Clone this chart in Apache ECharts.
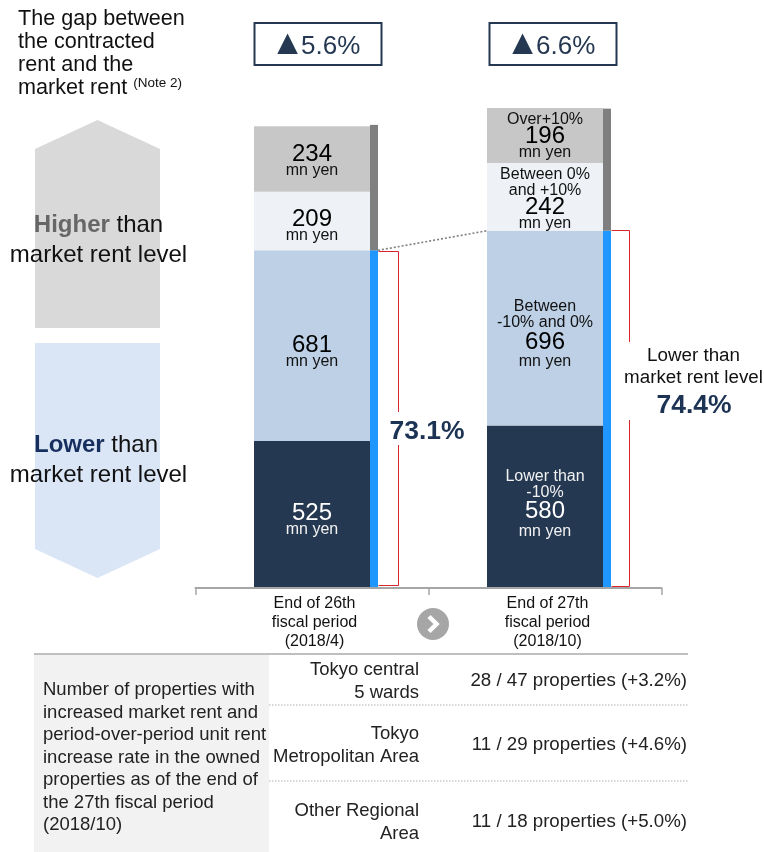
<!DOCTYPE html>
<html>
<head>
<meta charset="utf-8">
<style>html,body{margin:0;padding:0;background:#fff}#c{width:764px;height:852px}</style>
<script src="https://cdn.jsdelivr.net/npm/echarts@6/dist/echarts.min.js"></script>
</head>
<body>
<div id="c"></div>
<script>
const categories = ["End of 26th\nfiscal period\n(2018/4)", "End of 27th\nfiscal period\n(2018/10)"];
const overTen = [234, 196];
const zeroToTen = [209, 242];
const minusTenToZero = [681, 696];
const underMinusTen = [525, 580];
const sideHigher = [448, 436];
const sideLower = [1206, 1276];
const gapRates = ["5.6%", "6.6%"];
const shareLower = ["73.1%", "74.4%"];
const bandNames = [["Lower than", "-10%"], ["Between", "-10% and 0%"], ["Between 0%", "and +10%"], ["Over+10%"]];
const regions = [["Tokyo central", "5 wards"], ["Tokyo", "Metropolitan Area"], ["Other Regional", "Area"]];
const regionStats = ["28 / 47 properties (+3.2%)", "11 / 29 properties (+4.6%)", "11 / 18 properties (+5.0%)"];
const noteLines = ["Number of properties with", "increased market rent and", "period-over-period unit rent", "increase rate in the owned", "properties as of the end of", "the 27th fiscal period", "(2018/10)"];

const FONT = '"Liberation Sans", Arial, sans-serif';
const NAVY = '#253852';
const RED = '#d9262e';
function makeRich(numColor, textColor, numLine) {
  return {
    n: {fontSize: 24, lineHeight: numLine, color: numColor, fontFamily: FONT},
    u: {fontSize: 16, lineHeight: 16, color: textColor, fontFamily: FONT},
    t: {fontSize: 16, lineHeight: 16, color: textColor, fontFamily: FONT}
  };
}
function labelText(value, names) {
  const top = names ? names.map(s => '{t|' + s + '}').join('\n') + '\n' : '';
  return top + '{n|' + value + '}\n{u|mn yen}';
}
function items(values, names, offsets, rich) {
  return values.map((v, i) => ({
    value: v,
    label: {
      show: true, position: 'inside', rich: rich[i],
      offset: offsets[i],
      formatter: labelText(v, i === 1 ? names : null)
    }
  }));
}
function mainBar(name, values, color, names, offsets, rich) {
  return {
    name: name, type: 'bar', stack: 'main', barWidth: 116, xAxisIndex: 0, yAxisIndex: 0,
    itemStyle: {color: color}, data: items(values, names, offsets, rich), z: 2
  };
}
function sideBar(name, values, color) {
  return {
    name: name, type: 'bar', stack: 'side', barWidth: 8, xAxisIndex: 1, yAxisIndex: 1,
    itemStyle: {color: color}, data: values, z: 3
  };
}
const bracketSpec = [
  {reach: 20, nudge: 1.5, gapTop: 412, gapBottom: 445, foot: 2.5},
  {reach: 18, nudge: 0.5, gapTop: 342, gapBottom: 420, foot: 1.5}
];
function bracketItem(params, api) {
  const i = api.value(0);
  const top = api.coord([i, api.value(1)]);
  const base = api.coord([i, 0]);
  const s = bracketSpec[i];
  const x0 = top[0] + 66.5;
  const x1 = x0 + s.reach;
  const yTop = Math.floor(top[1]) + s.nudge;
  const st = {stroke: RED, lineWidth: 1, fill: null};
  return {type: 'group', children: [
    {type: 'polyline', shape: {points: [[x0, yTop], [x1, yTop], [x1, s.gapTop]]}, style: st},
    {type: 'polyline', shape: {points: [[x1, s.gapBottom], [x1, base[1] - s.foot], [x0, base[1] - s.foot]]}, style: st}
  ]};
}
function connectorItem(params, api) {
  const a = api.coord([api.value(0), api.value(1)]);
  const b = api.coord([api.value(2), api.value(3)]);
  return {type: 'line', shape: {x1: a[0] + 66, y1: a[1], x2: b[0] - 58, y2: b[1]},
    style: {stroke: '#7f7f7f', lineWidth: 1.6, lineDash: [2, 2]}};
}
function txt(text, x, y, size, extra) {
  return {type: 'text', x: x, y: y + 1.5, z: 20, style: Object.assign({
    text: text, fontSize: size, fontFamily: FONT, fill: '#111',
    align: 'left', verticalAlign: 'middle'
  }, extra || {})};
}
const graphics = [];
// heading
["The gap between", "the contracted", "rent and the"].forEach((s, i) => graphics.push(txt(s, 18, 18 + i * 23, 21.6)));
graphics.push(txt('{a|market rent }{b|(Note 2)}', 18, 87, 21.6, {
  rich: {a: {fontSize: 21.6, fontFamily: FONT, fill: '#111'},
         b: {fontSize: 13.5, fontFamily: FONT, fill: '#111', padding: [0, 0, 11, 0]}}
}));
// gap boxes
[254.5, 489.5].forEach((x, i) => {
  graphics.push({type: 'rect', shape: {x: x, y: 23, width: 127, height: 42}, z: 10,
    style: {fill: '#fff', stroke: NAVY, lineWidth: 2}});
  graphics.push(txt('▲', x + 33, 43, 35, {align: 'center', fill: NAVY}));
  graphics.push(txt(gapRates[i], x + 46.5, 45, 26, {align: 'left', fill: NAVY}));
});
// direction arrows
graphics.push({type: 'polygon', z: 1, shape: {points: [[35, 149], [97.5, 120], [160, 149], [160, 328], [35, 328]]},
  style: {fill: '#d9d9d9'}});
graphics.push({type: 'polygon', z: 1, shape: {points: [[35, 343], [160, 343], [160, 549], [97.5, 578], [35, 549]]},
  style: {fill: '#dae5f5'}});
graphics.push(txt('{h|Higher}{a| than}', 98.5, 224, 24, {align: 'center',
  rich: {h: {fontSize: 24, fontWeight: 'bold', fontFamily: FONT, fill: '#666'}, a: {fontSize: 24, fontFamily: FONT, fill: '#111'}}}));
graphics.push(txt('market rent level', 98.5, 254, 24, {align: 'center'}));
graphics.push(txt('{h|Lower}{a| than}', 96, 444, 24, {align: 'center',
  rich: {h: {fontSize: 24, fontWeight: 'bold', fontFamily: FONT, fill: '#172f5f'}, a: {fontSize: 24, fontFamily: FONT, fill: '#111'}}}));
graphics.push(txt('market rent level', 98.5, 474, 24, {align: 'center'}));
// share labels
graphics.push(txt(shareLower[0], 427, 430, 26.5, {align: 'center', fontWeight: 'bold', fill: '#1c3354'}));
graphics.push(txt('Lower than', 693.5, 354.5, 18.8, {align: 'center'}));
graphics.push(txt('market rent level', 693.5, 376.5, 18.8, {align: 'center'}));
graphics.push(txt(shareLower[1], 694, 404, 26.5, {align: 'center', fontWeight: 'bold', fill: '#1c3354'}));
// chevron
graphics.push({type: 'circle', shape: {cx: 433, cy: 624, r: 16}, style: {fill: '#a6a6a6'}, z: 5});
graphics.push({type: 'polyline', shape: {points: [[429, 616.5], [436.5, 624], [429, 631.5]]}, z: 6,
  style: {stroke: '#fff', lineWidth: 4.5, fill: null}});
// table
graphics.push({type: 'rect', shape: {x: 34, y: 655, width: 235, height: 197}, style: {fill: '#f2f2f2'}, z: 1});
graphics.push({type: 'line', shape: {x1: 34, y1: 654, x2: 688, y2: 654}, style: {stroke: '#bfbfbf', lineWidth: 2}, z: 2});
[705, 781].forEach(y => graphics.push({type: 'line', shape: {x1: 269, y1: y, x2: 688, y2: y}, z: 2,
  style: {stroke: '#b0b0b0', lineWidth: 1.2, lineDash: [1.5, 1.5]}}));
noteLines.forEach((s, i) => graphics.push(txt(s, 43, 688.5 + i * 22.5, 18.5, {fill: '#222'})));
const regionY = [[668, 691], [732, 755], [809, 832]];
regions.forEach((r, i) => r.forEach((s, j) => graphics.push(txt(s, 419, regionY[i][j], 18.5, {align: 'right', fill: '#222'}))));
[679, 743, 820].forEach((y, i) => graphics.push(txt(regionStats[i], 687, y, 18.7, {align: 'right', fill: '#222'})));

const dark = makeRich('#000', '#111', 17);
const darkWide = makeRich('#000', '#111', 23);
const light = makeRich('#fff', '#f2f2f2', 17);
const lightWide = makeRich('#fff', '#f2f2f2', 23);

const option = {
  animation: false,
  backgroundColor: '#fff',
  grid: [
    {left: 195.5, top: 84, width: 466, height: 504, containLabel: false},
    {left: 257.5, top: 84, width: 466, height: 504, containLabel: false}
  ],
  xAxis: [
    {type: 'category', gridIndex: 0, data: categories,
      axisLine: {show: true, lineStyle: {color: '#a6a6a6', width: 2}},
      axisTick: {show: true, length: 7, interval: 0, lineStyle: {color: '#a6a6a6', width: 1.5}},
      axisLabel: {interval: 0, margin: 6, fontSize: 16, lineHeight: 19, color: '#111', fontFamily: FONT, padding: [0, 0, 0, 5]},
      z: 6},
    {type: 'category', gridIndex: 1, data: categories, show: false}
  ],
  yAxis: [
    {type: 'value', gridIndex: 0, min: 0, max: 1800, show: false},
    {type: 'value', gridIndex: 1, min: 0, max: 1800, show: false}
  ],
  series: [
    mainBar('Lower than -10%', underMinusTen, NAVY, bandNames[0], [[0, 6.5], [0, -3]], [light, lightWide]),
    mainBar('Between -10% and 0%', minusTenToZero, '#bdd0e6', bandNames[1], [[0, 7.5], [0, 6]], [dark, darkWide]),
    mainBar('Between 0% and +10%', zeroToTen, '#eef2f6', bandNames[2], [[0, 6], [0, 2.5]], [dark, dark]),
    mainBar('Over+10%', overTen, '#c7c7c7', bandNames[3], [[0, 3], [0, 1]], [dark, dark]),
    sideBar('Lower than market rent', sideLower, '#1f97ff'),
    sideBar('Higher than market rent', sideHigher, '#7f7f7f'),
    {type: 'custom', name: 'bracket', xAxisIndex: 0, yAxisIndex: 0, clip: false, z: 4,
      renderItem: bracketItem, data: sideLower.map((v, i) => [i, v]), silent: true},
    {type: 'custom', name: 'connector', xAxisIndex: 0, yAxisIndex: 0, clip: false, z: 4,
      renderItem: connectorItem, data: [[0, sideLower[0], 1, sideLower[1]]], silent: true}
  ],
  graphic: {elements: graphics}
};
const chart = echarts.init(document.getElementById('c'), null, {renderer: 'canvas', width: 764, height: 852});
chart.setOption(option);
</script>
</body>
</html>
